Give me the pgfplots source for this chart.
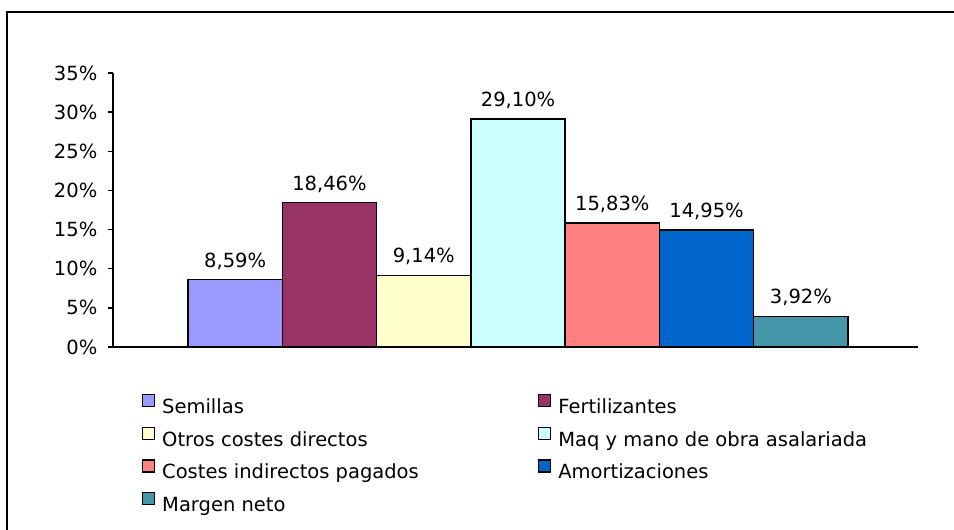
\documentclass[border=0pt]{standalone}
\usepackage{pgfplots}
\pgfplotsset{compat=1.18}
\usepackage{fontspec}
\setmainfont{DejaVu Sans}
\definecolor{cA}{HTML}{9999FF}
\definecolor{cB}{HTML}{993366}
\definecolor{cC}{HTML}{FFFFCC}
\definecolor{cD}{HTML}{CCFFFF}
\definecolor{cE}{HTML}{FF8080}
\definecolor{cF}{HTML}{0066CC}
\definecolor{cG}{HTML}{4496A8}
\newcommand\myfont{\fontsize{19.5}{23}\selectfont}
\pgfplotsset{
  mybar/.style={fill=#1, draw=black, line width=1.4pt, bar shift=0pt, bar width=1,
    legend image code/.code={\draw[##1, draw=black, line width=1.2pt] (0pt,2pt) rectangle (12pt,14pt);}},
}
\begin{document}
\myfont
\begin{tikzpicture}[x=1pt,y=1pt]
\begin{axis}[
  name=ax, at={(0,0)}, anchor=south west, scale only axis,
  width=805pt, height=274pt,
  xmin=-1.2955, xmax=7.242, ymin=0, ymax=35,
  axis x line*=bottom, axis y line*=left,
  axis line style={line width=1.5pt, -, black},
  xtick=\empty, ytick={0,5,...,35},
  tick align=outside, major tick length=5pt,
  y tick style={line width=1.3pt, black},
  /pgf/number format/assume math mode=true,
  yticklabel={\pgfmathprintnumber[fixed,precision=0]{\tick}\%},
  every tick label/.append style={font=\myfont},
  yticklabel style={xshift=-4pt},
  ybar,
  nodes near coords={\pgfmathprintnumber[use comma,fixed,fixed zerofill,precision=2]{\pgfplotspointmeta}\%},
  every node near coord/.append style={font=\myfont, black, yshift=3pt},
  clip=false,
  legend columns=2,
  legend cell align=left,
  legend style={draw=none, fill=none, inner sep=0pt, outer sep=0pt,
    at={(0.036,-0.172)}, anchor=north west, row sep=9pt, font=\myfont,
    nodes={inner sep=0pt, text height=14pt, text depth=4pt},
    /tikz/every odd column/.append style={column sep=7pt}},
]
\addplot[mybar=cA] coordinates {(0,8.59)};
\addlegendentry{\makebox[376pt][l]{Semillas}}
\addplot[mybar=cB] coordinates {(1,18.46)};
\addlegendentry{Fertilizantes}
\addplot[mybar=cC] coordinates {(2,9.14)};
\addlegendentry{\makebox[376pt][l]{Otros costes directos}}
\addplot[mybar=cD] coordinates {(3,29.10)};
\addlegendentry{Maq y mano de obra asalariada}
\addplot[mybar=cE] coordinates {(4,15.83)};
\addlegendentry{\makebox[376pt][l]{Costes indirectos pagados}}
\addplot[mybar=cF] coordinates {(5,14.95)};
\addlegendentry{Amortizaciones}
\addplot[mybar=cG] coordinates {(6,3.92)};
\addlegendentry{Margen neto}
\end{axis}
\pgfresetboundingbox
\path[use as bounding box] (ax.south west) ++(-113,-183) rectangle ++(954,530);
\draw[line width=2pt] (ax.south west) ++(-106,-183) -- ++(0,518) -- ++(947,0);
\end{tikzpicture}
\end{document}
